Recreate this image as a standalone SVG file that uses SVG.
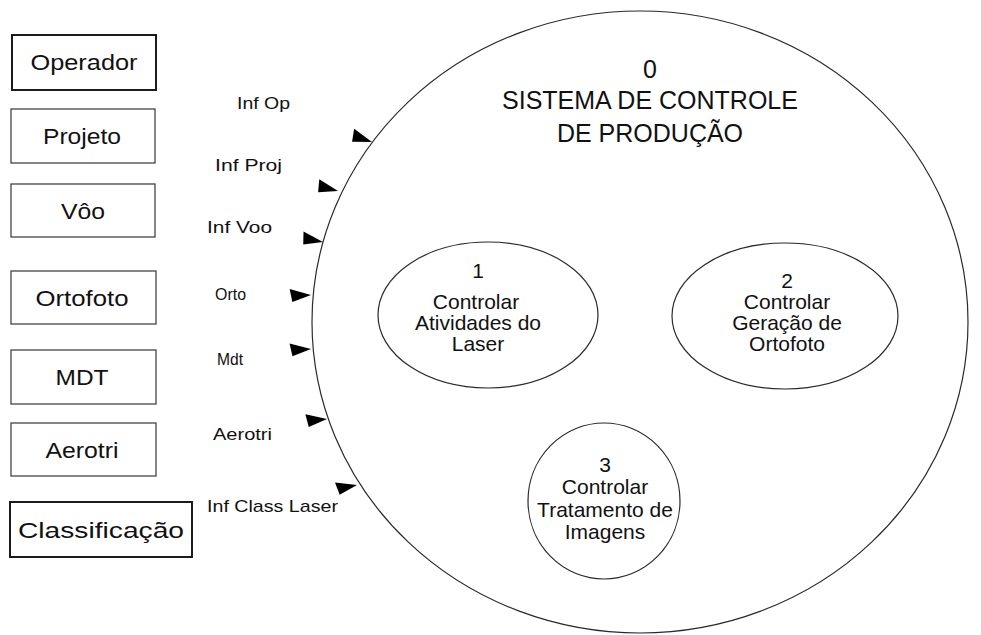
<svg xmlns="http://www.w3.org/2000/svg" xmlns:xlink="http://www.w3.org/1999/xlink" width="981" height="635" viewBox="0 0 981 635">
  <style>
    text { font-family: "Liberation Sans", Arial, sans-serif; fill: #111; }
    .ent { fill: #fff; stroke: #444; stroke-width: 1.3; }
    .ent-bold { stroke: #111; stroke-width: 1.9; }
    .ent-label { font-size: 22px; text-anchor: middle; }
    .flow-label { font-size: 17px; }
    .proc { fill: none; stroke: #2a2a2a; stroke-width: 1.2; }
    .proc-text { font-size: 21px; text-anchor: middle; }
    .sys-text { font-size: 25px; text-anchor: middle; }
    .arrowhead { fill: #000; }
  </style>
  <defs>
    <!-- solid triangular arrowhead, tip at the origin, pointing along +x -->
    <path id="ah" d="M0,0 L-21,-7 L-19,6 Z"/>
  </defs>

  <rect width="981" height="635" fill="#fff"/>

  <!-- context system -->
  <g id="sistema">
    <ellipse class="proc" cx="640" cy="322" rx="328" ry="311"/>
    <text class="sys-text" x="650" y="78">0</text>
    <text class="sys-text" x="650" y="109">SISTEMA DE CONTROLE</text>
    <text class="sys-text" x="650" y="142">DE PRODUÇÃO</text>
  </g>

  <!-- sub-processes -->
  <g id="proc1">
    <ellipse class="proc" cx="488" cy="315" rx="110" ry="73"/>
    <text class="proc-text" x="478" y="278">1</text>
    <text class="proc-text" x="476" y="309">Controlar</text>
    <text class="proc-text" x="478" y="330">Atividades do</text>
    <text class="proc-text" x="478" y="351">Laser</text>
  </g>
  <g id="proc2">
    <ellipse class="proc" cx="785" cy="316" rx="113" ry="73"/>
    <text class="proc-text" x="787" y="288">2</text>
    <text class="proc-text" x="787" y="309">Controlar</text>
    <text class="proc-text" x="787" y="330">Geração de</text>
    <text class="proc-text" x="787" y="351">Ortofoto</text>
  </g>
  <g id="proc3">
    <ellipse class="proc" cx="604" cy="501" rx="76" ry="78"/>
    <text class="proc-text" x="605" y="472">3</text>
    <text class="proc-text" x="605" y="494">Controlar</text>
    <text class="proc-text" x="605" y="517">Tratamento de</text>
    <text class="proc-text" x="605" y="539">Imagens</text>
  </g>

  <!-- external entities -->
  <g id="operador">
    <rect class="ent ent-bold" x="12" y="35" width="144" height="55"/>
    <text class="ent-label" x="84" y="70" textLength="107" lengthAdjust="spacingAndGlyphs">Operador</text>
  </g>
  <g id="projeto">
    <rect class="ent" x="11" y="109" width="144" height="54"/>
    <text class="ent-label" x="82" y="144" textLength="78" lengthAdjust="spacingAndGlyphs">Projeto</text>
  </g>
  <g id="voo">
    <rect class="ent" x="11" y="184" width="144" height="53"/>
    <text class="ent-label" x="83" y="219" textLength="44" lengthAdjust="spacingAndGlyphs">Vôo</text>
  </g>
  <g id="ortofoto">
    <rect class="ent" x="11" y="271" width="145" height="53"/>
    <text class="ent-label" x="82" y="306" textLength="93" lengthAdjust="spacingAndGlyphs">Ortofoto</text>
  </g>
  <g id="mdt">
    <rect class="ent" x="11" y="350" width="145" height="54"/>
    <text class="ent-label" x="82" y="385" textLength="53" lengthAdjust="spacingAndGlyphs">MDT</text>
  </g>
  <g id="aerotri">
    <rect class="ent" x="11" y="423" width="145" height="53"/>
    <text class="ent-label" x="82" y="458" textLength="73" lengthAdjust="spacingAndGlyphs">Aerotri</text>
  </g>
  <g id="classificacao">
    <rect class="ent ent-bold" x="10" y="502" width="182" height="55"/>
    <text class="ent-label" x="101" y="538" font-size="23" textLength="166" lengthAdjust="spacingAndGlyphs">Classificação</text>
  </g>

  <!-- data flows into the system -->
  <g id="connectors">
    <use class="arrowhead" xlink:href="#ah" transform="translate(372,142) rotate(18)"/>
    <use class="arrowhead" xlink:href="#ah" transform="translate(338,191) rotate(14)"/>
    <use class="arrowhead" xlink:href="#ah" transform="translate(323,242) rotate(10)"/>
    <use class="arrowhead" xlink:href="#ah" transform="translate(311,295) rotate(-3)"/>
    <use class="arrowhead" xlink:href="#ah" transform="translate(311,349) rotate(-4)"/>
    <use class="arrowhead" xlink:href="#ah" transform="translate(327,419) rotate(-6)"/>
    <use class="arrowhead" xlink:href="#ah" transform="translate(357,485) rotate(-12)"/>

    <text class="flow-label" x="237" y="109" textLength="53" lengthAdjust="spacingAndGlyphs">Inf Op</text>
    <text class="flow-label" x="215" y="171" textLength="67" lengthAdjust="spacingAndGlyphs">Inf Proj</text>
    <text class="flow-label" x="207" y="233" textLength="65" lengthAdjust="spacingAndGlyphs">Inf Voo</text>
    <text class="flow-label" x="215" y="300" textLength="31" lengthAdjust="spacingAndGlyphs">Orto</text>
    <text class="flow-label" x="217" y="365" textLength="26" lengthAdjust="spacingAndGlyphs">Mdt</text>
    <text class="flow-label" x="213" y="440" textLength="59" lengthAdjust="spacingAndGlyphs">Aerotri</text>
    <text class="flow-label" x="207" y="512" textLength="131" lengthAdjust="spacingAndGlyphs">Inf Class Laser</text>
  </g>
</svg>
